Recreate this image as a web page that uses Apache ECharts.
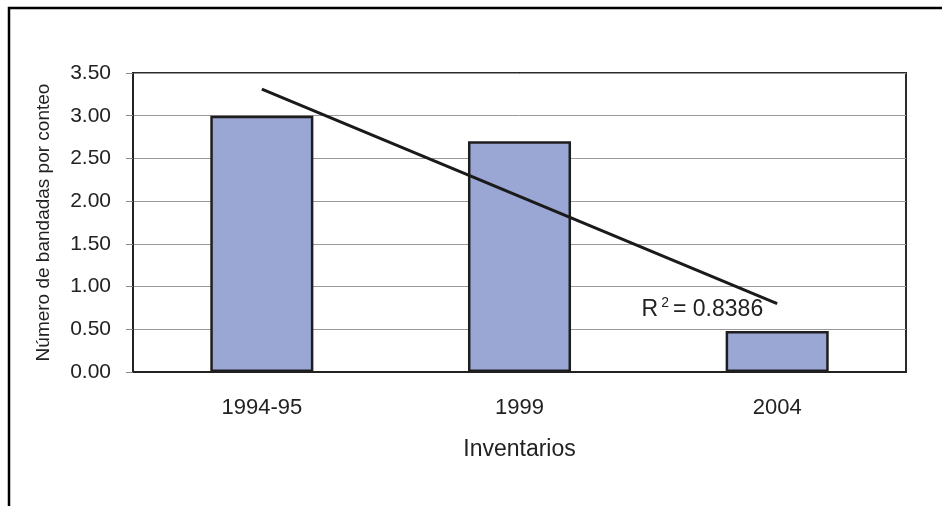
<!DOCTYPE html>
<html>
<head>
<meta charset="utf-8">
<script src="https://cdn.jsdelivr.net/npm/echarts@6/dist/echarts.min.js"></script>
<style>
  html, body { margin: 0; padding: 0; background: #fff; }
  #main { width: 942px; height: 506px; }
</style>
</head>
<body>
<div id="main"></div>
<script>
// datos
const inventarios = ['1994-95', '1999', '2004']
const bandadas = [3.00, 2.70, 0.48]
// linea de tendencia (extremos)
const tendencia = [3.31, null, 0.80]
const r2Texto = '0.8386'

const font = '"Liberation Sans", Arial, sans-serif'
const chart = echarts.init(document.getElementById('main'))

const ultimo = tendencia.length - 1

chart.setOption({
  animation: false,
  backgroundColor: '#fff',
  textStyle: { fontFamily: font },
  grid: {
    left: 133,
    right: 36,
    top: 73,
    bottom: 134,
    show: true,
    borderColor: '#2a2a2a',
    borderWidth: 2
  },
  graphic: [{
    type: 'polyline',
    shape: { points: [[9, 506], [9, 8], [942, 8]] },
    style: { stroke: '#000', lineWidth: 2.5, fill: null }
  }],
  xAxis: {
    type: 'category',
    data: inventarios,
    name: 'Inventarios',
    nameLocation: 'middle',
    nameGap: 66,
    nameTextStyle: { fontSize: 23, color: '#222', fontFamily: font },
    axisLine: { lineStyle: { color: '#222', width: 2 } },
    axisTick: { show: false },
    axisLabel: { fontSize: 22, color: '#222', margin: 25, fontFamily: font }
  },
  yAxis: {
    type: 'value',
    min: 0,
    max: 3.5,
    interval: 0.5,
    name: 'Número de bandadas por conteo',
    nameLocation: 'middle',
    nameGap: 80,
    nameTextStyle: { fontSize: 19, color: '#222', fontFamily: font },
    axisLine: { show: true, lineStyle: { color: '#222', width: 2 } },
    axisTick: { show: true, length: 7, lineStyle: { color: '#888' } },
    axisLabel: {
      fontSize: 21,
      color: '#222',
      margin: 22,
      fontFamily: font,
      formatter: v => v.toFixed(2)
    },
    splitLine: { lineStyle: { color: '#999', width: 1 } }
  },
  series: [
    {
      type: 'bar',
      data: bandadas,
      barWidth: '40%',
      itemStyle: { color: '#9AA6D4', borderColor: '#1e1e1e', borderWidth: 2.5 }
    },
    {
      type: 'line',
      data: tendencia,
      connectNulls: true,
      symbol: 'circle',
      symbolSize: 0,
      showSymbol: true,
      lineStyle: { color: '#1a1a1a', width: 3 },
      label: {
        show: true,
        position: 'left',
        distance: 14,
        offset: [0, 6],
        formatter: p => p.dataIndex === ultimo ? '{r|R}{sup|2}{r|= ' + r2Texto + '}' : '',
        rich: {
          r: { fontSize: 23, color: '#222', fontFamily: font },
          sup: { fontSize: 14, color: '#222', fontFamily: font, padding: [0, 4, 14, 3] }
        }
      }
    }
  ]
})
</script>
</body>
</html>
